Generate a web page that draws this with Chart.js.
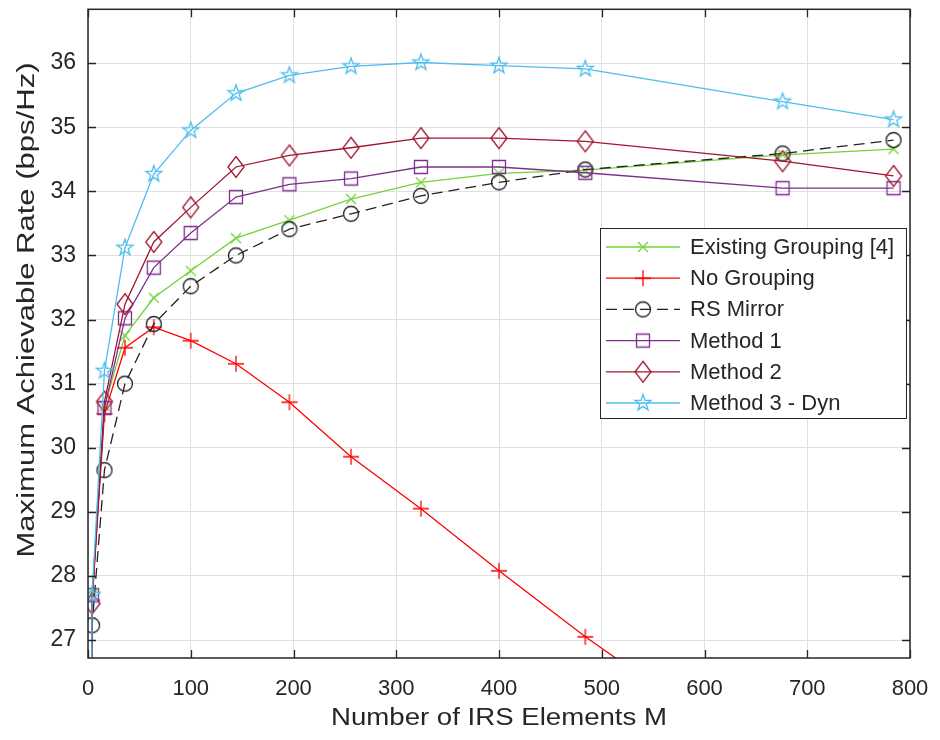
<!DOCTYPE html>
<html>
<head>
<meta charset="utf-8">
<script src="https://cdn.jsdelivr.net/npm/chart.js@4.4.0/dist/chart.umd.min.js"></script>
<style>
  html, body { margin: 0; padding: 0; background: #fff; }
  #wrap { width: 940px; height: 740px; }
</style>
</head>
<body>
<div id="wrap"><canvas id="rateChart" width="940" height="740"></canvas></div>
<script>
// Number of IRS elements M (x) and rates per method (bps/Hz)
const elements = [1, 4, 16, 36, 64, 100, 144, 196, 256, 324, 400, 484, 676, 784];
const existingGrouping = [20.0, 27.70, 30.65, 31.75, 32.34, 32.76, 33.27, 33.55, 33.88, 34.14, 34.28, 34.33, 34.57, 34.66];
const noGrouping       = [20.0, 27.62, 30.53, 31.56, 31.88, 31.67, 31.31, 30.71, 29.86, 29.05, 28.08, 27.05, 24.90, 23.70];
const rsMirror         = [20.0, 27.23, 29.65, 31.00, 31.93, 32.52, 33.00, 33.41, 33.65, 33.93, 34.14, 34.34, 34.59, 34.80];
const method1          = [20.0, 27.70, 30.62, 32.02, 32.81, 33.35, 33.91, 34.11, 34.20, 34.38, 34.38, 34.29, 34.05, 34.05];
const method2          = [20.0, 27.57, 30.72, 32.24, 33.21, 33.75, 34.38, 34.56, 34.68, 34.83, 34.83, 34.78, 34.47, 34.24];
const method3          = [20.0, 27.70, 31.20, 33.12, 34.27, 34.95, 35.53, 35.81, 35.95, 36.01, 35.96, 35.91, 35.40, 35.12];

const seriesNames = ['Existing Grouping [4]', 'No Grouping', 'RS Mirror', 'Method 1', 'Method 2', 'Method 3 - Dyn'];
const xTicks = [0, 100, 200, 300, 400, 500, 600, 700, 800];
const yTicks = [27, 28, 29, 30, 31, 32, 33, 34, 35, 36];

const FONT = "'Liberation Sans', Arial, Helvetica, sans-serif";
const AXIS = '#262626';

// MATLAB-like hollow markers drawn onto small canvases
function makeMarker(kind, color) {
    const size = 28;
    const c = document.createElement('canvas');
    c.width = size; c.height = size;
    const g = c.getContext('2d');
    g.strokeStyle = color;
    g.lineWidth = 1.3;
    g.translate(size / 2, size / 2);
    g.beginPath();
    if (kind === 'x') {
        g.moveTo(-5, -5); g.lineTo(5, 5);
        g.moveTo(5, -5); g.lineTo(-5, 5);
    } else if (kind === 'plus') {
        g.moveTo(-8, 0); g.lineTo(8, 0);
        g.moveTo(0, -8); g.lineTo(0, 8);
    } else if (kind === 'circle') {
        g.arc(0, 0, 7.5, 0, Math.PI * 2);
    } else if (kind === 'square') {
        g.rect(-6.5, -6.5, 13, 13);
    } else if (kind === 'diamond') {
        g.moveTo(0, -10.5); g.lineTo(8, 0); g.lineTo(0, 10.5); g.lineTo(-8, 0); g.closePath();
    } else if (kind === 'star') {
        for (let i = 0; i < 10; i++) {
            const r = i % 2 ? 3.4 : 8.5;
            const a = -Math.PI / 2 + i * Math.PI / 5;
            if (i === 0) g.moveTo(r * Math.cos(a), r * Math.sin(a));
            else g.lineTo(r * Math.cos(a), r * Math.sin(a));
        }
        g.closePath();
    }
    g.stroke();
    return c;
}

const styles = [
    { color: '#72D43A', marker: 'x', dash: [] },
    { color: '#FF0000', marker: 'plus', dash: [] },
    { color: '#222222', marker: 'circle', dash: [11, 6] },
    { color: '#7E2F8E', marker: 'square', dash: [] },
    { color: '#A2142F', marker: 'diamond', dash: [] },
    { color: '#4DBEEE', marker: 'star', dash: [] }
];
const allSeries = [existingGrouping, noGrouping, rsMirror, method1, method2, method3];

const datasets = allSeries.map((vals, i) => ({
    label: seriesNames[i],
    data: elements.map((m, j) => ({ x: m, y: vals[j] })),
    borderColor: styles[i].color,
    backgroundColor: 'transparent',
    borderWidth: 1.3,
    borderDash: styles[i].dash,
    pointStyle: makeMarker(styles[i].marker, styles[i].color),
    pointRadius: 8,
    pointHoverRadius: 8,
    tension: 0,
    fill: false,
    order: allSeries.length - i
}));

// box around the axes with inward ticks on all four sides
const framePlugin = {
    id: 'frame',
    afterDraw(chart) {
        const ctx = chart.ctx, a = chart.chartArea;
        const xs = chart.scales.x, ys = chart.scales.y;
        ctx.save();
        ctx.strokeStyle = AXIS;
        ctx.lineWidth = 1.5;
        ctx.strokeRect(a.left, a.top, a.right - a.left, a.bottom - a.top);
        ctx.lineWidth = 1.3;
        ctx.beginPath();
        xTicks.forEach(v => {
            const px = Math.round(xs.getPixelForValue(v)) + 0.5;
            ctx.moveTo(px, a.bottom); ctx.lineTo(px, a.bottom - 8);
            ctx.moveTo(px, a.top); ctx.lineTo(px, a.top + 8);
        });
        yTicks.forEach(v => {
            const py = Math.round(ys.getPixelForValue(v)) + 0.5;
            ctx.moveTo(a.left, py); ctx.lineTo(a.left + 8, py);
            ctx.moveTo(a.right, py); ctx.lineTo(a.right - 8, py);
        });
        ctx.stroke();

        // axis titles
        ctx.fillStyle = AXIS;
        ctx.font = '23px ' + FONT;
        ctx.textAlign = 'center';
        ctx.textBaseline = 'middle';
        const xt = 'Number of IRS Elements M';
        ctx.save();
        ctx.translate((a.left + a.right) / 2, 719);
        ctx.scale(336 / ctx.measureText(xt).width, 1);
        ctx.fillText(xt, 0, 0);
        ctx.restore();
        const yt = 'Maximum Achievable Rate (bps/Hz)';
        ctx.save();
        ctx.translate(28, 310);
        ctx.rotate(-Math.PI / 2);
        ctx.scale(495 / ctx.measureText(yt).width, 1);
        ctx.fillText(yt, 0, 0);
        ctx.restore();
        ctx.restore();
    }
};

const legendPlugin = {
    id: 'boxLegend',
    afterDraw(chart) {
        const ctx = chart.ctx, a = chart.chartArea;
        const x0 = a.right - 310, y0 = 228, w = 306, h = 190;
        ctx.save();
        ctx.fillStyle = '#fff';
        ctx.fillRect(x0, y0, w, h);
        ctx.strokeStyle = AXIS;
        ctx.lineWidth = 1;
        ctx.strokeRect(x0 + 0.5, y0 + 0.5, w, h);
        ctx.font = '22px ' + FONT;
        ctx.textBaseline = 'middle';
        ctx.textAlign = 'left';
        chart.data.datasets.forEach((ds, i) => {
            const y = y0 + 19 + i * 31.2;
            ctx.strokeStyle = ds.borderColor;
            ctx.lineWidth = ds.borderWidth;
            ctx.setLineDash(ds.borderDash);
            ctx.beginPath();
            ctx.moveTo(x0 + 6, y);
            ctx.lineTo(x0 + 80, y);
            ctx.stroke();
            ctx.setLineDash([]);
            const img = ds.pointStyle;
            ctx.drawImage(img, x0 + 43 - img.width / 2, y - img.height / 2);
            ctx.fillStyle = AXIS;
            ctx.fillText(ds.label, x0 + 90, y + 1);
        });
        ctx.restore();
    }
};

const ctx = document.getElementById('rateChart').getContext('2d');
new Chart(ctx, {
    type: 'line',
    data: { datasets: datasets },
    options: {
        responsive: false,
        animation: false,
        layout: { padding: { top: 8, right: 30, left: 0, bottom: 0 } },
        plugins: {
            legend: { display: false },
            tooltip: { enabled: false }
        },
        scales: {
            x: {
                type: 'linear',
                min: 0,
                max: 800,
                afterBuildTicks: s => { s.ticks = xTicks.map(v => ({ value: v })); },
                afterFit: s => { s.height = 82; s.paddingLeft = 0; s.paddingRight = 0; },
                grid: { color: '#e0e0e0', drawTicks: false },
                border: { display: false },
                ticks: {
                    color: AXIS,
                    font: { family: FONT, size: 22 },
                    padding: 18,
                    maxRotation: 0
                }
            },
            y: {
                type: 'linear',
                min: 26.72,
                max: 36.84,
                afterBuildTicks: s => { s.ticks = yTicks.map(v => ({ value: v })); },
                afterFit: s => { s.width = 88; s.paddingTop = 0; s.paddingBottom = 0; },
                grid: { color: '#e0e0e0', drawTicks: false },
                border: { display: false },
                ticks: {
                    color: AXIS,
                    font: { family: FONT, size: 23 },
                    padding: 12
                }
            }
        }
    },
    plugins: [framePlugin, legendPlugin]
});
</script>
</body>
</html>
